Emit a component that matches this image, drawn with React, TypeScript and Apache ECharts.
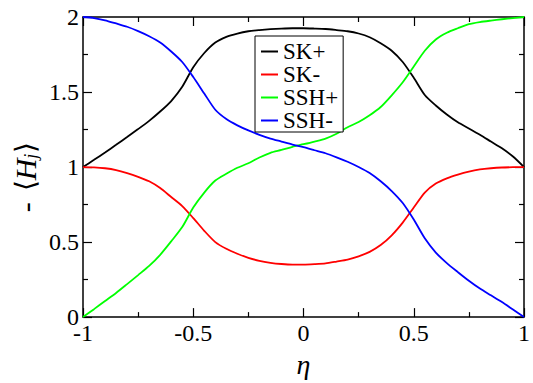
import React, { useEffect, useRef } from "react";
import * as echarts from "echarts";

const etaValues = [-1, -0.95, -0.9, -0.85, -0.8, -0.75, -0.7, -0.65, -0.6, -0.55, -0.5, -0.45, -0.4, -0.35, -0.3, -0.25, -0.2, -0.15, -0.1, -0.05, 0, 0.05, 0.1, 0.15, 0.2, 0.25, 0.3, 0.35, 0.4, 0.45, 0.5, 0.55, 0.6, 0.65, 0.7, 0.75, 0.8, 0.85, 0.9, 0.95, 1];
const skPlus = [1.0, 1.048, 1.097, 1.148, 1.2, 1.253, 1.308, 1.37, 1.44, 1.535, 1.665, 1.76, 1.83, 1.868, 1.89, 1.905, 1.913, 1.919, 1.923, 1.925, 1.925, 1.923, 1.92, 1.913, 1.905, 1.89, 1.865, 1.825, 1.775, 1.7, 1.595, 1.48, 1.41, 1.35, 1.298, 1.257, 1.215, 1.17, 1.125, 1.07, 1.0];
const skMinus = [1.0, 0.998, 0.992, 0.98, 0.96, 0.935, 0.905, 0.86, 0.8, 0.74, 0.66, 0.575, 0.5, 0.455, 0.422, 0.395, 0.375, 0.362, 0.354, 0.35, 0.35, 0.353, 0.358, 0.37, 0.383, 0.405, 0.435, 0.48, 0.545, 0.63, 0.73, 0.83, 0.89, 0.925, 0.95, 0.97, 0.984, 0.992, 0.997, 0.999, 1.0];
const sshPlus = [0, 0.053, 0.107, 0.161, 0.22, 0.28, 0.341, 0.415, 0.505, 0.6, 0.73, 0.83, 0.91, 0.955, 0.995, 1.025, 1.064, 1.095, 1.114, 1.135, 1.152, 1.17, 1.19, 1.222, 1.265, 1.3, 1.345, 1.4, 1.478, 1.565, 1.67, 1.775, 1.85, 1.895, 1.925, 1.952, 1.966, 1.976, 1.985, 1.993, 2.0];
const sshMinus = [2.0, 1.993, 1.978, 1.957, 1.935, 1.906, 1.872, 1.83, 1.77, 1.7, 1.6, 1.49, 1.382, 1.32, 1.278, 1.244, 1.215, 1.19, 1.17, 1.15, 1.132, 1.112, 1.092, 1.065, 1.035, 1.0, 0.96, 0.905, 0.84, 0.76, 0.65, 0.525, 0.43, 0.36, 0.3, 0.242, 0.19, 0.145, 0.1, 0.05, 0];

const seriesNames = ["SK+", "SK-", "SSH+", "SSH-"];
const seriesColors = ["#000000", "#ff0000", "#00ff00", "#0000ff"];
const seriesValues = [skPlus, skMinus, sshPlus, sshMinus];

const xTickLabels: Record<string, string> = { "-1": "-1", "-0.5": "-0.5", "0": "0", "0.5": "0.5", "1": "1" };
const yTickLabels: Record<string, string> = { "0": "0", "0.5": "0.5", "1": "1", "1.5": "1.5", "2": "2" };

const SERIF = "Liberation Serif";

export default function App() {
  const ref = useRef<HTMLDivElement>(null);
  useEffect(() => {
    if (!ref.current) return;
    const chart = echarts.init(ref.current, null, { renderer: "svg" });
    const axisLine = { show: true, onZero: false, lineStyle: { color: "#000", width: 1.5 } };
    const axisTick = { show: true, inside: true, length: 9, lineStyle: { color: "#000", width: 1.2 } };
    const minorTick = { show: true, splitNumber: 2, length: 5, lineStyle: { color: "#000", width: 1.2 } };
    chart.setOption({
      animation: false,
      backgroundColor: "#ffffff",
      textStyle: { fontFamily: SERIF },
      grid: { left: 83, right: 4, top: 17, bottom: 53, containLabel: false },
      graphic: [
        {
          type: "text",
          x: 25,
          y: 177,
          rotation: Math.PI / 2,
          style: {
            text: "{d|-}{g| }{m|⟨}{h|H}{s|j}{m|⟩}",
            align: "center",
            verticalAlign: "middle",
            fill: "#000",
            fontFamily: SERIF,
            fontSize: 28,
            rich: {
              d: { fontFamily: SERIF, fontSize: 30, fill: "#000" },
              g: { fontFamily: SERIF, fontSize: 28, width: 11 },
              m: { fontFamily: SERIF, fontSize: 28, fill: "#000" },
              h: { fontFamily: SERIF, fontSize: 30, fontStyle: "italic", fill: "#000" },
              s: { fontFamily: SERIF, fontSize: 18, fontStyle: "italic", fill: "#000", padding: [12, 1, 0, 0] },
            },
          },
        },
      ],
      legend: {
        show: true,
        orient: "vertical",
        left: 255,
        top: 36,
        data: seriesNames,
        icon: "rect",
        itemWidth: 17,
        itemHeight: 2,
        itemGap: 0,
        itemTextGap: 10,
        padding: [4, 5, 0, 6],
        borderColor: "#000",
        borderWidth: 1,
        backgroundColor: "#fff",
        selectedMode: false,
        textStyle: { fontFamily: SERIF, fontSize: 23, color: "#000", lineHeight: 21.5 },
      },
      xAxis: [
        {
          type: "value",
          min: -1,
          max: 1,
          interval: 0.5,
          position: "bottom",
          axisLine,
          axisTick,
          minorTick,
          splitLine: { show: false },
          axisLabel: {
            show: true,
            margin: 4,
            fontFamily: SERIF,
            fontSize: 24,
            color: "#000",
            formatter: (v: number) => xTickLabels[String(v)] ?? String(v),
          },
          name: "η",
          nameLocation: "middle",
          nameGap: 31,
          nameTextStyle: { fontFamily: SERIF, fontStyle: "italic", fontSize: 28, color: "#000" },
        },
        {
          type: "value",
          min: -1,
          max: 1,
          interval: 0.5,
          position: "top",
          axisLine,
          axisTick,
          minorTick,
          splitLine: { show: false },
          axisLabel: { show: false },
        },
      ],
      yAxis: [
        {
          type: "value",
          min: 0,
          max: 2,
          interval: 0.5,
          position: "left",
          axisLine,
          axisTick,
          minorTick,
          splitLine: { show: false },
          axisLabel: {
            show: true,
            margin: 4,
            fontFamily: SERIF,
            fontSize: 24,
            color: "#000",
            formatter: (v: number) => yTickLabels[String(v)] ?? String(v),
          },
        },
        {
          type: "value",
          min: 0,
          max: 2,
          interval: 0.5,
          position: "right",
          axisLine,
          axisTick,
          minorTick,
          splitLine: { show: false },
          axisLabel: { show: false },
        },
      ],
      series: seriesNames.map((name, i) => ({
        name,
        type: "line",
        xAxisIndex: 0,
        yAxisIndex: 0,
        data: etaValues.map((x, j) => [x, seriesValues[i][j]]),
        showSymbol: false,
        symbol: "none",
        smooth: 0.25,
        lineStyle: { color: seriesColors[i], width: 1.8 },
        itemStyle: { color: seriesColors[i] },
        z: 2,
      })),
    });
    return () => chart.dispose();
  }, []);
  return <div ref={ref} style={{ width: 533, height: 383, position: "fixed", left: 0, top: 0 }} />;
}
